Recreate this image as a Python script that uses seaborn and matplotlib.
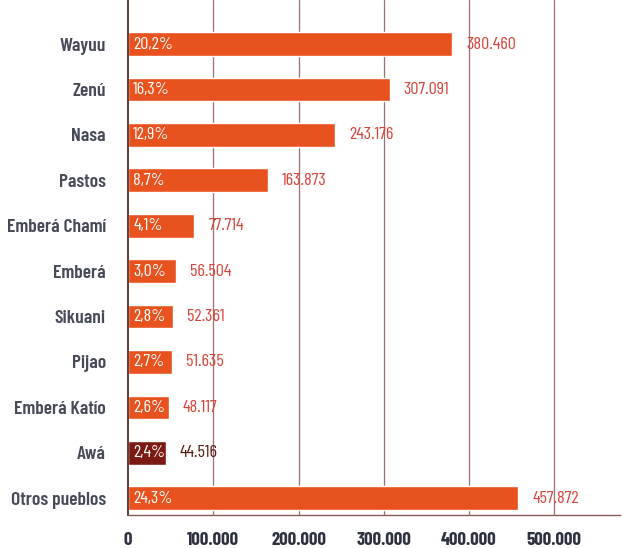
import matplotlib
matplotlib.use("Agg")
import matplotlib.pyplot as plt
import seaborn as sns
import pandas as pd

pueblos = ["Wayuu", "Zenú", "Nasa", "Pastos", "Emberá Chamí", "Emberá",
           "Sikuani", "Pijao", "Emberá Katío", "Awá", "Otros pueblos"]
poblacion = [380460, 307091, 243176, 163873, 77714, 56504,
             52361, 51635, 48117, 44516, 457872]
porcentaje = ["20,2%", "16,3%", "12,9%", "8,7%", "4,1%", "3,0%",
              "2,8%", "2,7%", "2,6%", "2,4%", "24,3%"]
valor_txt = ["380.460", "307.091", "243.176", "163.873", "77.714", "56.504",
             "52.361", "51.635", "48.117", "44.516", "457.872"]
xticks = [0, 100000, 200000, 300000, 400000, 500000]
xtick_labels = ["0", "100.000", "200.000", "300.000", "400.000", "500.000"]

sns.set_style("white")
plt.rcParams["font.family"] = ["Barlow Condensed", "DejaVu Sans"]

ORANGE = "#E8521F"
DARK = "#7B1A12"
colors = [DARK if p == "Awá" else ORANGE for p in pueblos]

df = pd.DataFrame({"pueblo": pueblos, "poblacion": poblacion})

fig = plt.figure(figsize=(6.22, 5.48), dpi=100)
ax = fig.add_axes([128/622, 33/548, 492/622, 515/548])

sns.barplot(data=df, y="pueblo", x="poblacion", hue="pueblo", palette=colors,
            legend=False, width=0.52, ax=ax, saturation=1, orient="h")

ax.set_xlim(0, 577000)
ax.set_ylim(10.37, -0.97)
ax.set_xticks(xticks)
ax.set_xticklabels(xtick_labels, fontsize=13.5, fontweight=700, color="#2E3140")
ax.tick_params(axis="x", length=0, pad=12)
ax.tick_params(axis="y", length=0, pad=16)
for lbl in ax.get_yticklabels():
    lbl.set_fontsize(14)
    lbl.set_fontweight(600)
    lbl.set_color("#474B58")
ax.set_xlabel("")
ax.set_ylabel("")

for x in xticks[1:]:
    ax.axvline(x, color="#9E6E6E", lw=0.9, zorder=0)

for s in ["top", "right"]:
    ax.spines[s].set_visible(False)
ax.spines["left"].set_color("#5A2A22")
ax.spines["left"].set_linewidth(1.3)
ax.spines["bottom"].set_color("#8A5A55")
ax.spines["bottom"].set_linewidth(1.0)

for i, (p, v, pc, vt) in enumerate(zip(pueblos, poblacion, porcentaje, valor_txt)):
    ax.text(6000, i, pc, color="white", fontsize=13, va="center", ha="left")
    ax.annotate(vt, xy=(v, i), xytext=(10, 0), textcoords="offset points",
                color=("#5A1A14" if p == "Awá" else "#D8433A"),
                fontsize=13, va="center", ha="left")

fig.savefig("out.png", dpi=100)
